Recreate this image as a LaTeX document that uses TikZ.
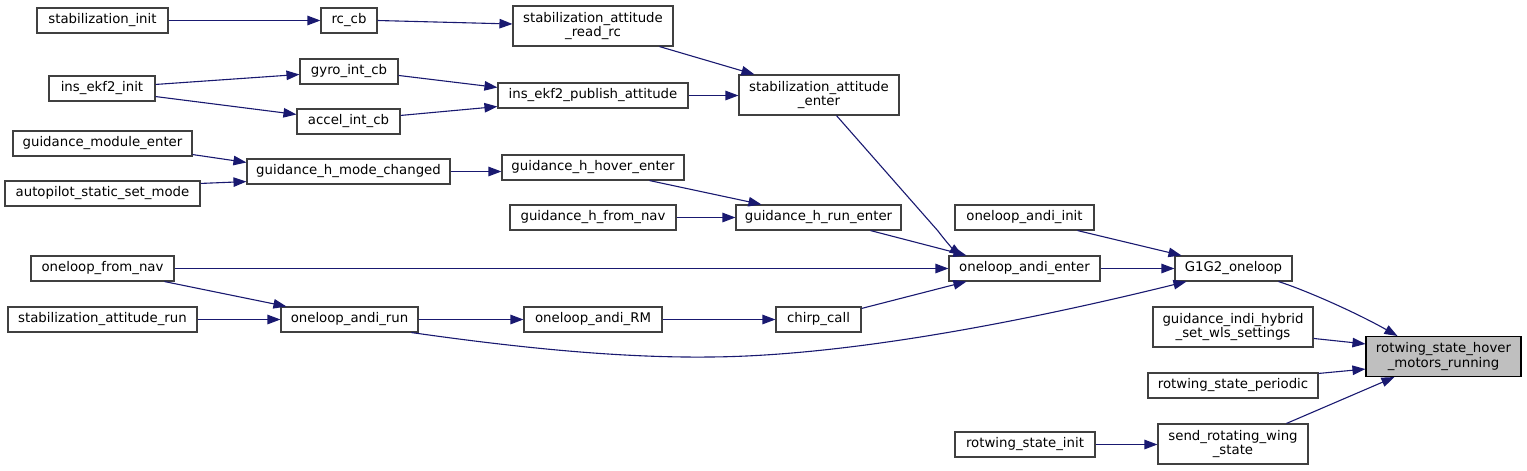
\documentclass[tikz,border=0pt]{standalone}
\usepackage{fontspec}
\setmainfont{DejaVu Sans}
\usetikzlibrary{arrows.meta}
\definecolor{edgeblue}{HTML}{191970}
\definecolor{boxline}{HTML}{404040}
\definecolor{rootfill}{HTML}{BFBFBF}
\tikzset{
  fn/.style={draw=boxline, line width=1.1pt, fill=white, inner sep=0pt, align=center,
    font=\fontsize{13.3}{14.7}\selectfont},
  rootfn/.style={fn, draw=black, fill=rootfill},
  call/.style={draw=edgeblue, line width=1.1pt, -{Triangle[length=13pt,width=9.5pt]}},
}
\begin{document}
\begin{tikzpicture}[x=1pt,y=-1pt]
\useasboundingbox (0,0) rectangle (1527,471);
% column 1
\node[fn, minimum width=131pt, minimum height=25pt] (sinit) at (102.5,20.5) {stabilization\_init};
\node[fn, minimum width=106pt, minimum height=25pt] (ekfinit) at (102,88.5) {ins\_ekf2\_init};
\node[fn, minimum width=179pt, minimum height=25pt] (gme) at (102.5,143.5) {guidance\_module\_enter};
\node[fn, minimum width=195pt, minimum height=25pt] (ap) at (102.5,193.5) {autopilot\_static\_set\_mode};
\node[fn, minimum width=143pt, minimum height=25pt] (ofn) at (102.5,268.5) {oneloop\_from\_nav};
\node[fn, minimum width=189pt, minimum height=25pt] (sar) at (102.5,319.5) {stabilization\_attitude\_run};
% column 2
\node[fn, minimum width=56pt, minimum height=25pt] (rccb) at (349,20.5) {rc\_cb};
\node[fn, minimum width=98pt, minimum height=25pt] (gyro) at (349,71.5) {gyro\_int\_cb};
\node[fn, minimum width=103pt, minimum height=25pt] (accel) at (348.5,121.5) {accel\_int\_cb};
\node[fn, minimum width=203pt, minimum height=25pt] (ghmc) at (348.5,171.5) {guidance\_h\_mode\_changed};
\node[fn, minimum width=137pt, minimum height=25pt] (oar) at (349.5,319.5) {oneloop\_andi\_run};
% column 3
\node[fn, minimum width=160pt, minimum height=40pt] (read) at (593,26) {stabilization\_attitude\\\_read\_rc};
\node[fn, minimum width=190pt, minimum height=25pt] (pub) at (593,95.5) {ins\_ekf2\_publish\_attitude};
\node[fn, minimum width=182pt, minimum height=25pt] (hover) at (593,167.5) {guidance\_h\_hover\_enter};
\node[fn, minimum width=166pt, minimum height=25pt] (ghfn) at (593,217.5) {guidance\_h\_from\_nav};
\node[fn, minimum width=138pt, minimum height=25pt] (rm) at (593,319.5) {oneloop\_andi\_RM};
% column 4
\node[fn, minimum width=160pt, minimum height=40pt] (saenter) at (819,95) {stabilization\_attitude\\\_enter};
\node[fn, minimum width=165pt, minimum height=25pt] (gre) at (818.5,217.5) {guidance\_h\_run\_enter};
\node[fn, minimum width=85pt, minimum height=25pt] (chirp) at (818.5,319.5) {chirp\_call};
% column 5
\node[fn, minimum width=139pt, minimum height=25pt] (oai) at (1024.5,217.5) {oneloop\_andi\_init};
\node[fn, minimum width=151pt, minimum height=25pt] (oae) at (1024.5,268.5) {oneloop\_andi\_enter};
\node[fn, minimum width=140pt, minimum height=25pt] (rsi) at (1025,444.5) {rotwing\_state\_init};
% column 6
\node[fn, minimum width=117pt, minimum height=25pt] (g1g2) at (1233.5,268.5) {G1G2\_oneloop};
\node[fn, minimum width=160pt, minimum height=40pt] (gih) at (1233,327) {guidance\_indi\_hybrid\\\_set\_wls\_settings};
\node[fn, minimum width=170pt, minimum height=25pt] (per) at (1233,385.5) {rotwing\_state\_periodic};
\node[fn, minimum width=150pt, minimum height=40pt] (srw) at (1233,444) {send\_rotating\_wing\\\_state};
% root
\node[rootfn, minimum width=155pt, minimum height=40pt] (rot) at (1443.5,356.5) {rotwing\_state\_hover\\\_motors\_running};

% connectors
\draw[call] (sinit.east) -- (rccb.west);
\draw[call] (rccb.east) -- ([yshift=2pt]read.west);
\draw[call] ([xshift=147pt]read.south west) -- ([xshift=16pt]saenter.north west);
\draw[call] ([yshift=-9pt]ekfinit.north east) -- ([yshift=-16pt]gyro.north west);
\draw[call] ([yshift=5pt]ekfinit.south east) -- ([yshift=-6pt]accel.north west);
\draw[call] ([yshift=-17pt]gyro.north east) -- ([yshift=-5pt]pub.north west);
\draw[call] ([yshift=-7pt]accel.north east) -- ([yshift=2pt]pub.south west);
\draw[call] (pub.east) -- (pub.east -| saenter.west);
\draw[call] ([xshift=98pt]saenter.south west) -- (938,231) .. controls (947,243) and (954,250) .. ([xshift=14pt]oae.north west);
\draw[call] ([yshift=2pt]gme.south east) -- ([yshift=-4pt]ghmc.north west);
\draw[call] ([yshift=-3pt]ap.north east) -- ([yshift=3pt]ghmc.south west);
\draw[call] (ghmc.east) -- (ghmc.east -| hover.west);
\draw[call] ([xshift=148pt]hover.south west) -- ([xshift=26pt]gre.north west);
\draw[call] (ghfn.east) -- (gre.west);
\draw[call] ([xshift=135pt]gre.south west) -- ([xshift=18pt]oae.north west);
\draw[call] (ofn.east) -- (oae.west);
\draw[call] ([xshift=134pt]ofn.south west) -- ([xshift=6pt]oar.north west);
\draw[call] (sar.east) -- (oar.west);
\draw[call] (oar.east) -- (rm.west);
\draw[call] ([xshift=131pt]oar.south west) .. controls (520,348) and (620,358) .. (710,357)
  .. controls (840,356) and (1010,325) .. ([xshift=12pt]g1g2.south west);
\draw[call] (rm.east) -- (chirp.west);
\draw[call] ([yshift=-2pt]chirp.north east) -- ([xshift=18pt]oae.south west);
\draw[call] ([xshift=123pt]oai.south west) -- ([xshift=7pt]g1g2.north west);
\draw[call] (oae.east) -- (g1g2.west);
\draw[call] ([xshift=104pt]g1g2.south west) .. controls (1305,290) and (1355,312) .. ([xshift=32pt]rot.north west);
\draw[call] ([yshift=-32pt]gih.north east) -- ([yshift=-8pt]rot.north west);
\draw[call] ([yshift=-1pt]per.north east) -- ([yshift=8pt]rot.south west);
\draw[call] ([xshift=129pt]srw.north west) -- ([xshift=29pt]rot.south west);
\draw[call] (rsi.east) -- (rsi.east -| srw.west);
\end{tikzpicture}
\end{document}
